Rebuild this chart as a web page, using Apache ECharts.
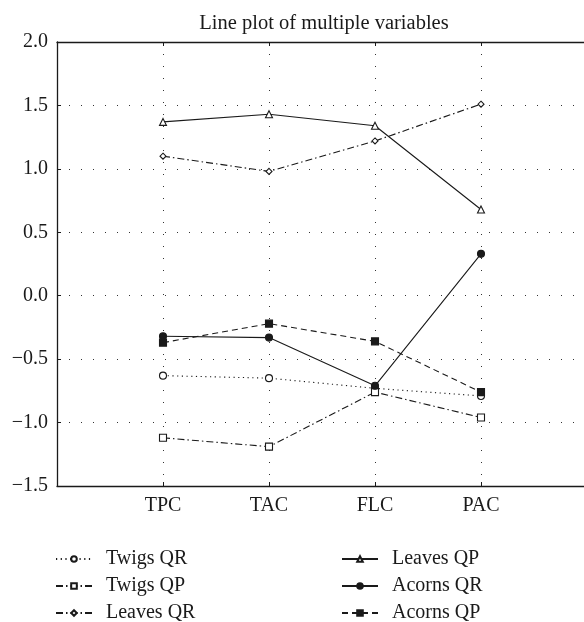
<!DOCTYPE html>
<html>
<head>
<meta charset="utf-8">
<script src="https://cdn.jsdelivr.net/npm/echarts@6/dist/echarts.min.js"></script>
<style>
  html, body { margin: 0; padding: 0; background: #fff; }
  #chart { width: 584px; height: 622px; }
</style>
</head>
<body>
<div id="chart"></div>
<script>
var categories = ['TPC', 'TAC', 'FLC', 'PAC'];
var yTicks = [-1.5, -1.0, -0.5, 0.0, 0.5, 1.0, 1.5, 2.0];

var twigsQR = [-0.63, -0.65, -0.73, -0.79];
var twigsQP = [-1.12, -1.19, -0.76, -0.96];
var leavesQR = [1.10, 0.98, 1.22, 1.51];
var leavesQP = [1.37, 1.43, 1.34, 0.68];
var acornsQR = [-0.32, -0.33, -0.71, 0.33];
var acornsQP = [-0.37, -0.22, -0.36, -0.76];

var FONT = '"Liberation Serif", "DejaVu Serif", serif';
var INK = '#1a1a1a';

function points(values) {
	var out = [];
	for (var i = 0; i < values.length; i++) {
		out.push([i + 1, values[i]]);
	}
	return out;
}

function makeSeries(name, values, dash, symbol, size, filled) {
	return {
		name: name,
		type: 'line',
		data: points(values),
		symbol: symbol,
		symbolSize: size,
		showAllSymbol: true,
		lineStyle: { color: INK, width: 1.1, type: dash },
		itemStyle: { color: filled ? INK : '#fff', borderColor: INK, borderWidth: 1.1 },
		emphasis: { disabled: true },
		z: 3
	};
}

var dotted = [1.2, 3.5];
var dashDot = [7, 3, 1.5, 3];
var dashed = [6, 4];

var legendBase = {
	orient: 'vertical',
	top: 549,
	height: 100,
	padding: 0,
	itemWidth: 36,
	itemHeight: 7,
	itemGap: 7,
	textStyle: { fontFamily: FONT, fontSize: 20, color: INK, padding: [0, 0, 0, 9] }
};

var chart = echarts.init(document.getElementById('chart'));

var option = {
	backgroundColor: '#fff',
	animation: false,
	title: {
		text: 'Line plot of multiple variables',
		left: 324,
		textAlign: 'center',
		top: 13,
		padding: 0,
		textStyle: { fontFamily: FONT, fontSize: 20.5, fontWeight: 'normal', color: INK }
	},
	grid: { left: 57, right: -3, top: 42, bottom: 136, outerBoundsMode: 'none' },
	legend: [
		Object.assign({}, legendBase, { left: 55, data: ['Twigs QR', 'Twigs QP', 'Leaves QR'] }),
		Object.assign({}, legendBase, { left: 341, data: ['Leaves QP', 'Acorns QR', 'Acorns QP'] })
	],
	xAxis: [{
		type: 'value',
		min: 0,
		max: 5,
		interval: 1,
		position: 'bottom',
		axisLine: { onZero: false, lineStyle: { color: INK, width: 1.3 } },
		axisTick: { inside: true, length: 4, lineStyle: { color: INK } },
		axisLabel: {
			fontFamily: FONT, fontSize: 20, color: INK, margin: 10,
			formatter: function (v) { return categories[v - 1] || ''; }
		},
		splitLine: { show: true, lineStyle: { color: '#333', width: 1, type: [1, 11] } }
	}, {
		type: 'value',
		min: 0,
		max: 5,
		interval: 1,
		position: 'top',
		axisLine: { onZero: false, lineStyle: { color: INK, width: 1.3 } },
		axisTick: { inside: true, length: 4, lineStyle: { color: INK } },
		axisLabel: { show: false },
		splitLine: { show: false }
	}],
	yAxis: {
		type: 'value',
		min: yTicks[0],
		max: yTicks[yTicks.length - 1],
		interval: 0.5,
		axisLine: { show: true, onZero: false, lineStyle: { color: INK, width: 1.3 } },
		axisTick: { show: true, inside: true, length: 4, lineStyle: { color: INK } },
		axisLabel: {
			fontFamily: FONT, fontSize: 20, color: INK, margin: 9,
			formatter: function (v) { return v.toFixed(1).replace('-', '\u2212'); }
		},
		splitLine: { show: true, lineStyle: { color: '#333', width: 1, type: [1, 11] } }
	},
	series: [
		makeSeries('Twigs QR', twigsQR, dotted, 'circle', 7, false),
		makeSeries('Twigs QP', twigsQP, dashDot, 'rect', 7, false),
		makeSeries('Leaves QR', leavesQR, dashDot, 'diamond', 6, false),
		makeSeries('Leaves QP', leavesQP, 'solid', 'triangle', 7, false),
		makeSeries('Acorns QR', acornsQR, 'solid', 'circle', 7, true),
		makeSeries('Acorns QP', acornsQP, dashed, 'rect', 7, true)
	]
};

chart.setOption(option);
</script>
</body>
</html>
